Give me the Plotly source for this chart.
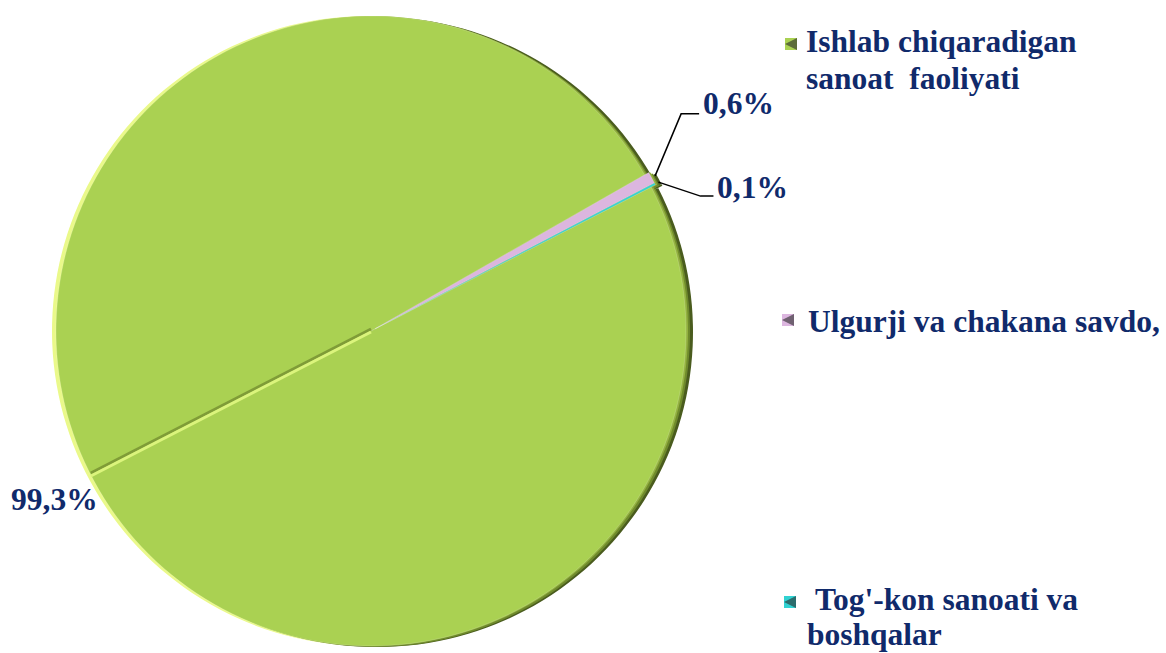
import math
import plotly.graph_objects as go

# ---- data ----
categories = ["Ishlab chiqaradigan sanoat faoliyati", "Ulgurji va chakana savdo,", "Tog'-kon sanoati va boshqalar"]
legend_lines = [["Ishlab chiqaradigan", "sanoat\u00a0 faoliyati"], ["Ulgurji va chakana savdo,"], ["\u00a0Tog'-kon sanoati va", "boshqalar"]]
values = [99.3, 0.6, 0.1]
colors = ["#aad152", "#dcb6df", "#30d2d2"]
pulls = [0.0, 0.015, 0.015]

W, H = 1166, 653
NAVY = "#102a6b"
FONT = "Liberation Serif"

# ---- pie geometry (pixels) ----
cx, cy = 371.0, 331.0
R = 315.0
maxpull = max(pulls)
half = R * (1 + maxpull)
rotation = 62.8  # degrees clockwise from 12 o'clock


def px(x):
    return x / W


def py(y):
    return 1 - y / H


def dom(dx=0.0, dy=0.0):
    return dict(x=[px(cx + dx - half), px(cx + dx + half)],
                y=[max(0, py(cy + dy + half)), min(1, py(cy + dy - half))])


fig = go.Figure()

# bevel back layers
for dx, dy, col in [(-4, 0, "#eaf98a"), (7, 1, "#4a5c1e"), (4, 1, "#6f8a2c"), (2, 0, "#93b13f")]:
    fig.add_trace(go.Pie(values=values, labels=categories, sort=False, direction="clockwise",
                         rotation=rotation, pull=pulls, domain=dom(dx, dy),
                         marker=dict(colors=[col] * len(values), line=dict(width=0)),
                         textinfo="none", hoverinfo="skip", showlegend=False))

fig.add_trace(go.Pie(values=values, labels=categories, sort=False, direction="clockwise",
                     rotation=rotation, pull=pulls, domain=dom(),
                     marker=dict(colors=colors, line=dict(color="rgba(255,255,255,0.35)", width=0.5)),
                     textinfo="none", showlegend=False))

# angles from data
total = sum(values)
starts = []
a = rotation
for v in values:
    starts.append(a)
    a += v / total * 360.0


def point(angle_deg, r):
    t = math.radians(angle_deg)
    return cx + r * math.sin(t), cy - r * math.cos(t)


def fmt(v):
    return "<b>" + f"{v:.1f}%".replace(".", ",") + "</b>"


shapes = []
annotations = []

# bevel seam across the big slice (opposite the small slices)
seam_angle = starts[0] + 180
x0, y0 = cx, cy
x1, y1 = point(seam_angle, R)
shapes.append(dict(type="line", xref="paper", yref="paper", x0=px(x0), y0=py(y0 - 2), x1=px(x1), y1=py(y1 - 2),
                   line=dict(color="#7f9c37", width=3)))
shapes.append(dict(type="line", xref="paper", yref="paper", x0=px(x0), y0=py(y0 + 1), x1=px(x1), y1=py(y1 + 1),
                   line=dict(color="#dbf47c", width=3)))

# label for big slice
annotations.append(dict(x=px(x1 + 9), y=py(y1 + 25), xref="paper", yref="paper", xanchor="right", yanchor="middle",
                        text=fmt(values[0]), showarrow=False, font=dict(family=FONT, size=31.5, color=NAVY)))

# labels for small slices with elbow leader lines
offsets = [None, ((26, -62), (44, -62), (46, -72)), ((42, 14), (55, 14), (57, 5))]
for i in (1, 2):
    mid = starts[i] + values[i] / total * 180.0
    tx, ty = point(mid, R * (1 + pulls[i]) + 4)
    (ex, ey), (hx, hy), (lx, ly) = offsets[i]
    shapes.append(dict(type="path", xref="paper", yref="paper",
                       path=f"M {px(tx)} {py(ty)} L {px(tx + ex)} {py(ty + ey)} L {px(tx + hx)} {py(ty + hy)}",
                       line=dict(color="black", width=1.5)))
    annotations.append(dict(x=px(tx + lx), y=py(ty + ly), xref="paper", yref="paper", xanchor="left",
                            yanchor="middle", text=fmt(values[i]), showarrow=False,
                            font=dict(family=FONT, size=31.5, color=NAVY)))

# custom legend
leg_marker = [(791, 44), (788, 320), (790, 602)]
leg_text_x = [804, 806, 805]
leg_text_y = [[42, 78], [321], [599, 634]]
for i, lines in enumerate(legend_lines):
    mx, my = leg_marker[i]
    shapes.append(dict(type="rect", xref="paper", yref="paper", x0=px(mx - 6), x1=px(mx + 6),
                       y0=py(my + 6), y1=py(my - 6), fillcolor=colors[i], line=dict(width=0)))
    shapes.append(dict(type="path", xref="paper", yref="paper",
                       path=f"M {px(mx - 6)} {py(my)} L {px(mx + 6)} {py(my - 6)} L {px(mx + 6)} {py(my + 6)} Z",
                       fillcolor="rgba(40,40,40,0.6)", line=dict(width=0)))
    for j, line in enumerate(lines):
        annotations.append(dict(x=px(leg_text_x[i]), y=py(leg_text_y[i][j]), xref="paper", yref="paper",
                                xanchor="left", yanchor="middle", text="<b>" + line + "</b>", showarrow=False,
                                font=dict(family=FONT, size=31.5, color=NAVY)))

fig.update_layout(width=W, height=H, margin=dict(l=0, r=0, t=0, b=0),
                  paper_bgcolor="white", plot_bgcolor="white",
                  shapes=shapes, annotations=annotations, showlegend=False)

fig.write_html("out.html", config={"displayModeBar": False},
               post_script="document.body.style.margin='0';document.body.style.overflow='hidden';")
